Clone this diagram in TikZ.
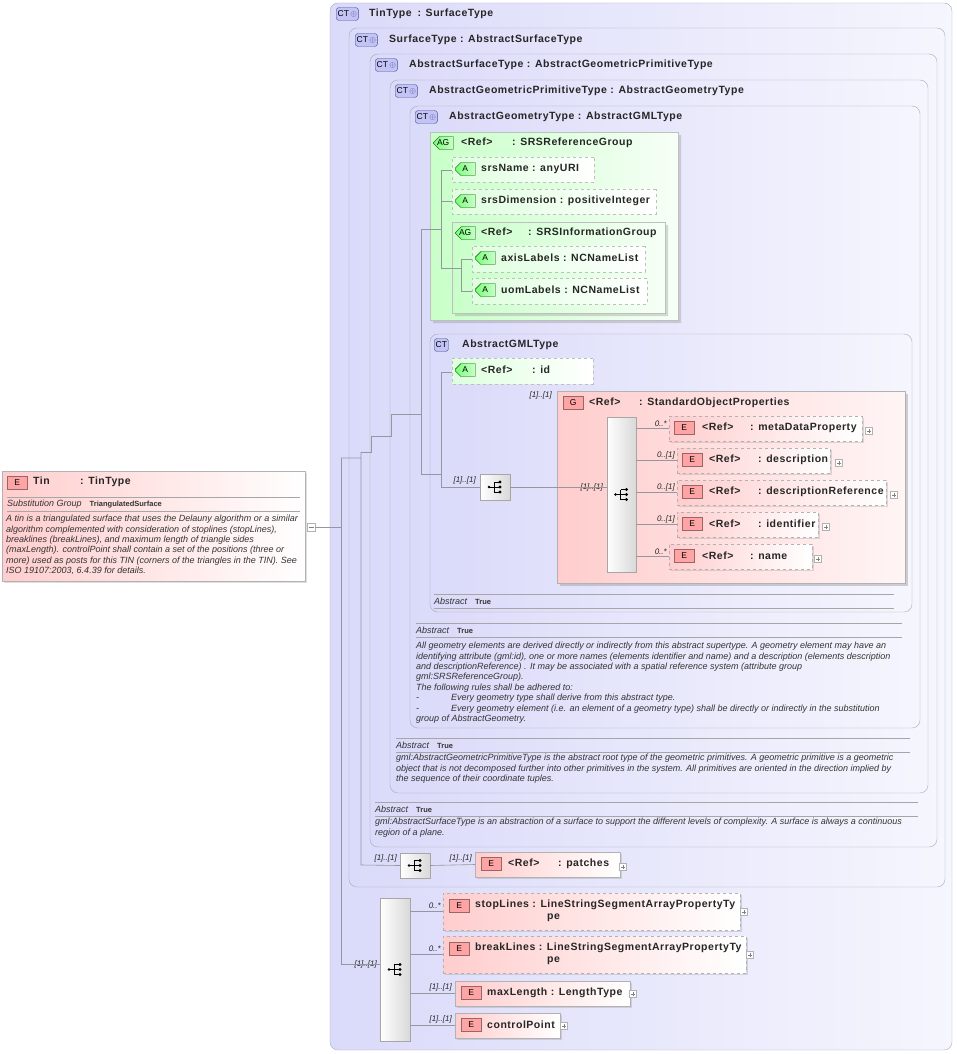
\documentclass[tikz,border=0pt]{standalone}
\usepackage{fontspec}
\setmainfont{Liberation Sans}
\newfontfamily\lblfont[LetterSpace=5]{Liberation Sans}
\usepackage{tikz}
\usetikzlibrary{positioning,shapes.misc,shadows}
\definecolor{ctfill}{RGB}{218,218,250}
\definecolor{ctline}{RGB}{170,170,185}
\definecolor{pinkfill}{RGB}{255,205,205}
\definecolor{greenfill}{RGB}{200,255,200}
\definecolor{badgeblue}{RGB}{195,195,245}
\definecolor{badgeline}{RGB}{80,80,150}
\definecolor{conn}{RGB}{150,150,160}
\newcommand\mkbox[6][]{\node[#1,anchor=north west,inner sep=0pt,outer sep=0pt,
  minimum width={#5pt-#3pt},minimum height={#6pt-#4pt}] (#2) at (#3,#4) {};}
\tikzset{
  ctbox/.style={draw=ctline,rounded corners=8pt,left color=ctfill,right color=ctfill!25},
  elbox/.style={draw=gray!60,left color=pinkfill,right color=white,drop shadow={opacity=.25,shadow xshift=2pt,shadow yshift=-2pt}},
  grpbox/.style={draw=gray!60,left color=pinkfill,right color=pinkfill!20,drop shadow={opacity=.35,shadow xshift=3pt,shadow yshift=-3pt}},
  agbox/.style={draw=gray!50,chamfered rectangle,chamfered rectangle corners={north west,south west},chamfered rectangle xsep=7pt,
    left color=greenfill,right color=greenfill!15,drop shadow={opacity=.3,shadow xshift=3pt,shadow yshift=-3pt}},
  attbox/.style={draw=gray!50,dashed,chamfered rectangle,chamfered rectangle corners={north west,south west},chamfered rectangle xsep=6pt,
    left color=greenfill!60,right color=white},
  seqbar/.style={draw=gray!70,left color=white,right color=gray!30},
  ebadge/.style={draw=gray!80!red,fill=pinkfill!80!red,minimum width=20pt,minimum height=13pt,inner sep=0pt,font=\fontsize{8.5}{8.5}\selectfont,anchor=west},
  abadge/.style={draw=green!30!black,chamfered rectangle,chamfered rectangle corners={north west,south west},chamfered rectangle xsep=3pt,
    left color=greenfill!60!green,right color=greenfill,minimum width=20pt,minimum height=13pt,inner sep=0pt,font=\fontsize{8.5}{8.5}\selectfont,anchor=west},
  ctbadge/.style={draw=badgeline,fill=badgeblue,rounded corners=3pt,minimum height=13pt,inner sep=1.5pt,font=\fontsize{8.5}{8.5}\selectfont,anchor=west},
  lbl/.style={font=\lblfont\fontsize{10.5}{12}\selectfont\bfseries,text=black!85,inner sep=0pt,anchor=west},
  note/.style={font=\fontsize{9}{10.4}\selectfont\itshape,text=black!80,inner sep=0pt,anchor=north west,align=left},
  card/.style={font=\fontsize{8}{8}\selectfont\itshape,text=black!85,inner sep=0pt,anchor=south east},
  plusbox/.style={draw=gray!60,fill=white,minimum size=7pt,inner sep=0pt,
    path picture={\draw[gray] (path picture bounding box.center) +(-2pt,0)--+(2pt,0) +(0,-2pt)--+(0,2pt);}},
  minusbox/.style={draw=gray!60,fill=white,minimum size=8pt,inner sep=0pt,
    path picture={\draw[gray] (path picture bounding box.center) +(-2.5pt,0)--+(2.5pt,0);}},
  seqsym/.pic={\fill (-6pt,0) circle (1.4pt); \draw[line width=.8pt] (-6pt,0)--(-1pt,0) (-1pt,-5pt)--(-1pt,5pt)
    (-1pt,-5pt)--(5pt,-5pt) (-1pt,0)--(5pt,0) (-1pt,5pt)--(5pt,5pt);
    \foreach \q in {-5,0,5} \fill (5pt,\q pt) circle (1.6pt);},
  link/.style={draw=conn,line width=.6pt}
}
\newcommand\abstr[3]{\draw[gray!70] (#1,#2)--(#3,#2);
  \node[note,anchor=west] at (#1,{#2+7}) {Abstract\hspace{8pt}\upshape\bfseries\fontsize{7.5}{8}\selectfont True};
  \draw[gray!70] (#1,{#2+14})--(#3,{#2+14});}
\begin{document}
\begin{tikzpicture}[x=1pt,y=-1pt]
\useasboundingbox (0,0) rectangle (957,1054);
% nested complex types
\mkbox[ctbox]{tin}{330}{3}{952}{1050}
\node[ctbadge] at (336,14) {CT\,\textcolor{badgeline}{$\oplus$}};
\node[lbl] at (369,14) {TinType\hspace{6pt}: SurfaceType};
\mkbox[ctbox]{surf}{349}{28}{945}{887}
\node[ctbadge] at (355,40) {CT\,\textcolor{badgeline}{$\oplus$}};
\node[lbl] at (389,40) {SurfaceType : AbstractSurfaceType};
\mkbox[ctbox]{ast}{370}{54}{937}{847}
\node[ctbadge] at (375,65) {CT\,\textcolor{badgeline}{$\oplus$}};
\node[lbl] at (409,65) {AbstractSurfaceType : AbstractGeometricPrimitiveType};
\mkbox[ctbox]{agpt}{390}{80}{928}{793}
\node[ctbadge] at (395,91) {CT\,\textcolor{badgeline}{$\oplus$}};
\node[lbl] at (429,91) {AbstractGeometricPrimitiveType : AbstractGeometryType};
\mkbox[ctbox]{agt}{410}{106}{920}{728}
\node[ctbadge] at (415,117) {CT\,\textcolor{badgeline}{$\oplus$}};
\node[lbl] at (449,117) {AbstractGeometryType : AbstractGMLType};
% attribute groups
\mkbox[agbox]{srsref}{430}{132}{678}{320}
\node[abadge] at (433,143) {AG};
\node[lbl] at (461,143) {\makebox[51pt][l]{<Ref>}: SRSReferenceGroup};
\mkbox[attbox]{srsname}{452}{157}{594}{182}
\node[abadge] at (455,169) {A};
\node[lbl] at (481,169) {srsName : anyURI};
\mkbox[attbox]{srsdim}{452}{189}{656}{214}
\node[abadge] at (455,201) {A};
\node[lbl] at (481,201) {srsDimension : positiveInteger};
\mkbox[agbox]{srsinfo}{452}{222}{665}{313}
\node[abadge] at (455,233) {AG};
\node[lbl] at (481,233) {\makebox[47pt][l]{<Ref>}: SRSInformationGroup};
\mkbox[attbox]{axis}{472}{246}{645}{272}
\node[abadge] at (475,258) {A};
\node[lbl] at (501,258) {axisLabels : NCNameList};
\mkbox[attbox]{uom}{472}{278}{647}{304}
\node[abadge] at (475,290) {A};
\node[lbl] at (501,290) {uomLabels : NCNameList};
% AbstractGMLType
\mkbox[ctbox]{gml}{430}{334}{912}{612}
\node[ctbadge] at (434,345) {CT};
\node[lbl] at (462,345) {AbstractGMLType};
\mkbox[attbox]{id}{452}{358}{593}{384}
\node[abadge] at (455,370) {A};
\node[lbl] at (481,370) {\makebox[51pt][l]{<Ref>}: id};
\mkbox[seqbar]{seqgml}{480}{474}{510}{500}
\pic at (seqgml.center) {seqsym};
\node[card] at (476,484) {[1]..[1]};
\mkbox[grpbox]{sop}{557}{391}{905}{583}
\node[ebadge] at (563,403) {G};
\node[lbl] at (589,403) {\makebox[50pt][l]{<Ref>}: StandardObjectProperties};
\node[card] at (552,399) {[1]..[1]};
\mkbox[seqbar]{seqsop}{607}{417}{636}{572}
\pic at (seqsop.center) {seqsym};
\node[card] at (603,491) {[1]..[1]};
\mkbox[elbox,dashed]{meta}{669}{416}{862}{441}
\node[ebadge] at (674,428) {E};
\node[lbl] at (702,428) {\makebox[48pt][l]{<Ref>}: metaDataProperty};
\node[plusbox] at (869,431) {};
\mkbox[elbox,dashed]{descr}{677}{448}{830}{473}
\node[ebadge] at (682,460) {E};
\node[lbl] at (709,460) {\makebox[49pt][l]{<Ref>}: description};
\node[plusbox] at (839,463) {};
\mkbox[elbox,dashed]{descref}{677}{480}{886}{505}
\node[ebadge] at (682,492) {E};
\node[lbl] at (709,492) {\makebox[49pt][l]{<Ref>}: descriptionReference};
\node[plusbox] at (894,495) {};
\mkbox[elbox,dashed]{ident}{677}{512}{818}{537}
\node[ebadge] at (682,524) {E};
\node[lbl] at (709,524) {\makebox[49pt][l]{<Ref>}: identifier};
\node[plusbox] at (826,527) {};
\mkbox[elbox,dashed]{nm}{669}{544}{812}{569}
\node[ebadge] at (674,556) {E};
\node[lbl] at (702,556) {\makebox[48pt][l]{<Ref>}: name};
\node[plusbox] at (818,559) {};
\node[card] at (667,427) {0..*};
\node[card] at (675,459) {0..[1]};
\node[card] at (675,491) {0..[1]};
\node[card] at (675,523) {0..[1]};
\node[card] at (667,555) {0..*};
\abstr{434}{594}{894}
% annotations
\abstr{416}{623}{902}
\node[note] at (416,642) {All geometry elements are derived directly or indirectly from this abstract supertype. A geometry element may have an\\
identifying attribute (gml:id), one or more names (elements identifier and name) and a description (elements description\\
and descriptionReference) . It may be associated with a spatial reference system (attribute group\\
gml:SRSReferenceGroup).\\
The following rules shall be adhered to:\\
-\hspace{32pt}Every geometry type shall derive from this abstract type.\\
-\hspace{32pt}Every geometry element (i.e. an element of a geometry type) shall be directly or indirectly in the substitution\\
group of AbstractGeometry.};
\abstr{396}{738}{910}
\node[note] at (396,754) {gml:AbstractGeometricPrimitiveType is the abstract root type of the geometric primitives. A geometric primitive is a geometric\\
object that is not decomposed further into other primitives in the system. All primitives are oriented in the direction implied by\\
the sequence of their coordinate tuples.};
\abstr{375}{802}{918}
\node[note] at (375,818) {gml:AbstractSurfaceType is an abstraction of a surface to support the different levels of complexity. A surface is always a continuous\\
region of a plane.};
% patches
\mkbox[seqbar]{seqsurf}{400}{853}{430}{878}
\pic at (seqsurf.center) {seqsym};
\node[card] at (397,862) {[1]..[1]};
\mkbox[elbox]{patches}{475}{852}{620}{877}
\node[ebadge] at (481,864) {E};
\node[lbl] at (508,864) {\makebox[50pt][l]{<Ref>}: patches};
\node[plusbox] at (623,867) {};
\node[card] at (472,862) {[1]..[1]};
% TinType sequence
\mkbox[seqbar]{seqtin}{380}{898}{410}{1041}
\pic at (seqtin.center) {seqsym};
\node[card] at (377,968) {[1]..[1]};
\mkbox[elbox,dashed]{stop}{443}{893}{740}{930}
\node[ebadge] at (449,906) {E};
\node[lbl,anchor=north west,align=left] at (475,900) {stopLines : LineStringSegmentArrayPropertyTy\\ \hspace{72pt}pe};
\node[plusbox] at (744,912) {};
\node[card] at (441,909) {0..*};
\mkbox[elbox,dashed]{brk}{443}{936}{746}{973}
\node[ebadge] at (449,949) {E};
\node[lbl,anchor=north west,align=left] at (475,943) {breakLines : LineStringSegmentArrayPropertyTy\\ \hspace{72pt}pe};
\node[plusbox] at (750,955) {};
\node[card] at (441,952) {0..*};
\mkbox[elbox]{maxlen}{455}{981}{630}{1006}
\node[ebadge] at (461,993) {E};
\node[lbl] at (487,993) {maxLength : LengthType};
\node[plusbox] at (633,994) {};
\node[card] at (452,991) {[1]..[1]};
\mkbox[elbox]{ctrl}{455}{1013}{560}{1038}
\node[ebadge] at (461,1025) {E};
\node[lbl] at (487,1025) {controlPoint};
\node[plusbox] at (564,1026) {};
\node[card] at (452,1023) {[1]..[1]};
% Tin element
\mkbox[elbox]{tinel}{2}{471}{305}{581}
\node[ebadge] at (7,483) {E};
\node[lbl] at (33,482) {\makebox[47pt][l]{Tin}: TinType};
\draw[gray!70] (7,497)--(300,497) (7,511)--(300,511);
\node[note,anchor=west] at (7,504) {Substitution Group\hspace{8pt}\upshape\bfseries\fontsize{7.5}{8}\selectfont TriangulatedSurface};
\node[note] at (6,515) {A tin is a triangulated surface that uses the Delauny algorithm or a similar\\
algorithm complemented with consideration of stoplines (stopLines),\\
breaklines (breakLines), and maximum length of triangle sides\\
(maxLength). controlPoint shall contain a set of the positions (three or\\
more) used as posts for this TIN (corners of the triangles in the TIN). See\\
ISO 19107:2003, 6.4.39 for details.};
\node[minusbox] (tinmin) at (311,527) {};
% connectors
\coordinate (j0) at (341,527);
\draw[link] (tinmin.east)--(j0) (341,458)--(341,964)--(seqtin.west|-341,964);
\draw[link] (341,458)--(361,458) (361,452)--(361,865)--(seqsurf.west);
\draw[link] (seqsurf.east)--(patches.west);
\draw[link] (361,452)--(371,452)--(371,436)--(391,436)--(391,414)--(421,414);
\draw[link] (421,229)--(421,474)--(441,474);
\draw[link] (421,229)--(441,229);
\draw[link] (441,170)--(441,268)--(461,268);
\draw[link] (441,170)--(srsname.west|-441,170) (441,201)--(srsdim.west|-441,201);
\draw[link] (461,259)--(461,291) (461,259)--(axis.west|-461,259) (461,291)--(uom.west|-461,291);
\draw[link] (441,372)--(441,487)--(seqgml.west) (441,372)--(id.west|-441,372);
\draw[link] (seqgml.east)--(seqsop.west|-seqgml.east);
\foreach \t in {meta,descr,descref,ident,nm}
  \draw[link] (seqsop.east|-\t.west)--(\t.west);
\draw[link] (seqtin.east|-stop.west)--(stop.west) (seqtin.east|-brk.west)--(brk.west)
  (seqtin.east|-maxlen.west)--(maxlen.west) (seqtin.east|-ctrl.west)--(ctrl.west);
\end{tikzpicture}
\end{document}
